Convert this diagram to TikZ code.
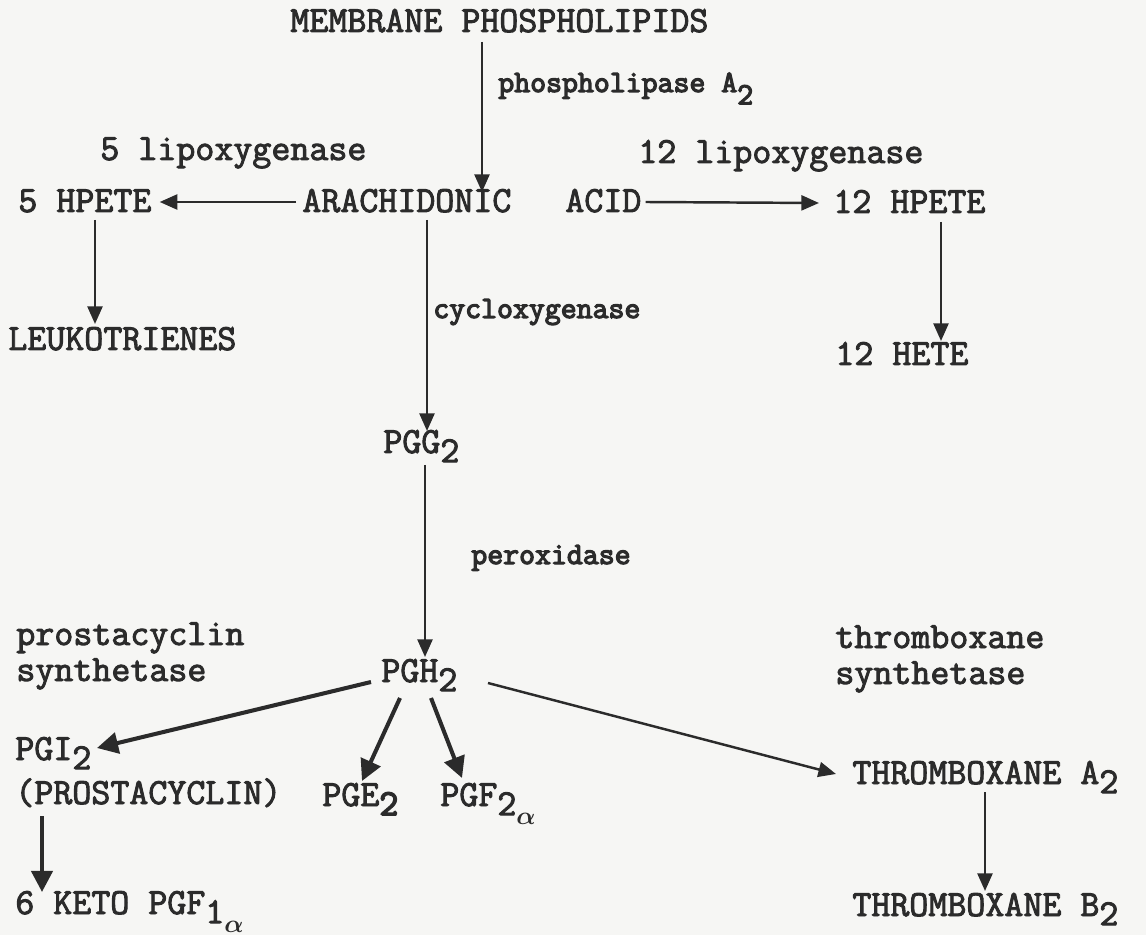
\documentclass[tikz,border=0pt]{standalone}
\usepackage{fontspec}
\newfontfamily\typefont{Latin Modern Mono}[FakeBold=2.5]
\newfontfamily\enzfont{Latin Modern Mono}[FakeBold=4]
\usetikzlibrary{arrows.meta,calc}
\definecolor{ink}{HTML}{2B2B2B}
\definecolor{paper}{HTML}{F6F6F4}
\newcommand{\low}[1]{\raisebox{-0.25em}{#1}}
\newcommand{\lowa}{\raisebox{-0.5em}{\fontsize{14}{14}\selectfont\boldmath$\alpha$}}
\tikzset{
  label/.style={inner sep=0pt, anchor=base west, text=ink, font=\typefont\fontsize{21}{22}\selectfont},
  enzyme/.style={inner sep=0pt, anchor=base west, text=ink, font=\enzfont\fontsize{17.6}{18}\selectfont},
  arr/.style={draw=ink, line width=1.4pt, -{Triangle[length=10pt,width=8.5pt]}},
  fatarr/.style={draw=ink, line width=2.3pt, -{Triangle[length=12pt,width=12pt]}}
}
\begin{document}
\begin{tikzpicture}[x=0.02cm, y=-0.02cm]
  \fill[paper] (0,0) rectangle (1146,935);
  \useasboundingbox (0,0) rectangle (1146,935);

  % top: phospholipids and arachidonic acid
  \node[label] (mem) at (290,32) {MEMBRANE PHOSPHOLIPIDS};
  \node[enzyme] (pla) at (498,92) {phospholipase A\raisebox{-0.4em}{2}};
  \node[label] (lox5) at (100,160) {5 lipoxygenase};
  \node[label] (lox12) at (638,163) {12 lipoxygenase};
  \node[label] (hpete5) at (18,212) {5 HPETE};
  \node[label] (arach) at (302,212) {ARACHIDONIC};
  \node[label] (acid) at (565,212) {ACID};
  \node[label] (hpete12) at (833,213) {12 HPETE};

  % lipoxygenase products
  \node[label] (leuko) at (8,350) {LEUKOTRIENES};
  \node[label] (hete12) at (835,365) {12 HETE};

  % cycloxygenase branch
  \node[enzyme] (cox) at (433,318) {cycloxygenase};
  \node[label] (pgg) at (383,453) {PGG\low{2}};
  \node[enzyme] (perox) at (471,564) {peroxidase};
  \node[label] (pgh) at (381,682) {PGH\low{2}};

  % synthetases
  \node[label] (pcs1) at (16,645) {prostacyclin};
  \node[label] (pcs2) at (16,681) {synthetase};
  \node[label] (txs1) at (835,648) {thromboxane};
  \node[label] (txs2) at (835,684) {synthetase};

  % end products
  \node[label] (pgi) at (15,760) {PGI\low{2}};
  \node[label] (prost) at (15,804) {(PROSTACYCLIN)};
  \node[label] (pge) at (322,806) {PGE\low{\enzfont 2}};
  \node[label] (pgf) at (440,806) {PGF\low{2}\lowa};
  \node[label] (txa) at (852,784) {THROMBOXANE A\low{2}};
  \node[label] (keto) at (15,914) {6 KETO PGF\low{1}\lowa};
  \node[label] (txb) at (852,916) {THROMBOXANE B\low{2}};

  % arrows
  \draw[arr] ($(mem.base west)+(192,10)$) -- ($(arach.base west)+(180,-20)$);
  \draw[arr] ($(arach.base west)+(-6,-10)$) -- ($(hpete5.base east)+(8,-10)$);
  \draw[arr] ($(acid.base east)+(4,-10)$) -- ($(hpete12.base west)+(-14,-10)$);
  \draw[arr] ($(hpete5.base west)+(77,8)$) -- ($(leuko.base west)+(87,-26)$);
  \draw[arr] ($(arach.base west)+(125,8)$) -- ($(pgg.base west)+(44,-22)$);
  \draw[arr] ($(hpete12.base west)+(108,9)$) -- ($(hete12.base west)+(106,-24)$);
  \draw[arr] ($(pgg.base west)+(42,12)$) -- ($(pgh.base west)+(44,-25)$);
  \draw[fatarr] ($(pgh.base west)+(-10,0)$) -- ($(pgi.base west)+(82,-12)$);
  \draw[fatarr] ($(pgh.base west)+(19,16)$) -- ($(pge.base west)+(40,-25)$);
  \draw[fatarr] ($(pgh.base west)+(50,16)$) -- ($(pgf.base west)+(22,-28)$);
  \draw[arr] ($(pgh.base west)+(107,1)$) -- ($(txa.base west)+(-16,-10)$);
  \draw[arr] ($(txa.base west)+(133,8)$) -- ($(txb.base west)+(133,-25)$);
  \draw[fatarr] ($(prost.base west)+(27,12)$) -- ($(keto.base west)+(27,-22)$);
\end{tikzpicture}
\end{document}
